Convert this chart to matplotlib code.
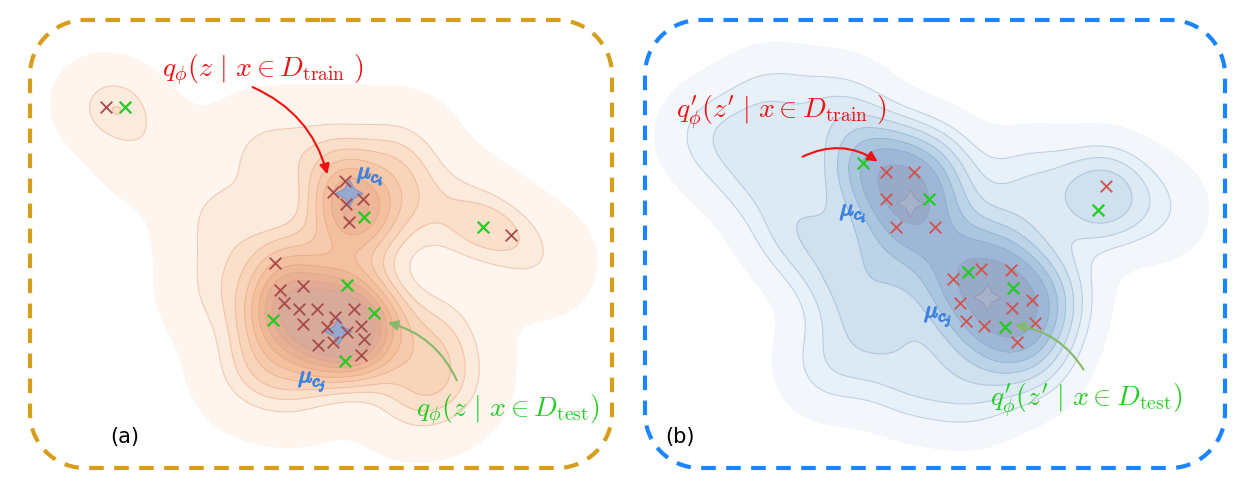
import numpy as np
import matplotlib.pyplot as plt
import matplotlib.patheffects as pe
from matplotlib.patches import Polygon, FancyArrowPatch

plt.rcParams['mathtext.fontset'] = 'cm'

# panel (a) points, in picture pixels
a_red_x = [106, 345, 333, 363, 346, 349, 275, 280, 303, 284, 299, 317, 354, 303, 335, 327, 347, 361, 364, 318, 333, 361, 511]
a_red_y = [107, 181, 192, 199, 204, 222, 263, 290, 286, 303, 309, 309, 309, 324, 317, 327, 332, 326, 339, 345, 342, 355, 235]
a_grn_x = [125, 364, 347, 374, 273, 345, 483]
a_grn_y = [107, 217, 285, 313, 320, 361, 227]
a_mu_x = [349, 338]
a_mu_y = [193, 331]
# rough centres and weights of the broad density of (a)
a_halo_x = [92, 150, 262, 330, 400, 218, 218, 250, 300, 410, 450, 440, 465, 540, 300, 360, 330, 380, 280, 400]
a_halo_y = [100, 150, 150, 150, 150, 220, 290, 372, 382, 398, 382, 330, 215, 262, 250, 250, 320, 330, 330, 200]
a_halo_w = [0.6, 1.3, 1.8, 1.8, 1.8, 1.8, 1.8, 1.8, 1.8, 1.8, 1.8, 1.8, 1.8, 1.5, 2, 2, 2, 2, 2, 2]

# panel (b) points
b_red_x = [886, 914, 886, 896, 935, 953, 981, 1011, 1032, 960, 1012, 966, 984, 1035, 1017, 1106]
b_red_y = [172, 172, 199, 227, 227, 279, 269, 270, 300, 303, 308, 321, 326, 323, 342, 186]
b_grn_x = [863, 929, 968, 1013, 1005, 1098]
b_grn_y = [163, 199, 272, 288, 327, 210]
b_mu_x = [910, 987]
b_mu_y = [203, 297]
b_halo_x = [710, 770, 840, 760, 800, 870, 930, 1030, 1100, 1160, 1050, 1030, 970, 910, 830, 845, 920, 990, 880, 905]
b_halo_y = [135, 100, 110, 175, 230, 160, 170, 185, 190, 210, 290, 360, 390, 380, 365, 275, 250, 250, 320, 205]
b_halo_w = [1.2, 1.2, 1.3, 1.4, 1.8, 1.8, 1.8, 1.4, 1.0, 0.9, 1.4, 1.3, 1.3, 1.3, 1.3, 1.8, 1.8, 1.8, 1.8, 1.2]

W, H = 1244, 486
fig = plt.figure(figsize=(W / 100, H / 100), dpi=100)
ax = fig.add_axes([0, 0, 1, 1])
ax.set_xlim(0, W)
ax.set_ylim(H, 0)
ax.axis('off')

gx, gy = np.meshgrid(np.arange(0, W, 2.0), np.arange(0, H, 2.0))


def gsum(px, py, h, w=None):
    if w is None:
        w = [1] * len(px)
    z = np.zeros_like(gx)
    for x0, y0, wk in zip(px, py, w):
        z += wk * np.exp(-((gx - x0) ** 2 + (gy - y0) ** 2) / (2 * h ** 2))
    return z


def rounded_rect(x0, y0, x1, y1, r):
    t = np.linspace(0, np.pi / 2, 30)
    pts = [((x0 + x1) / 2, y0)]
    for cx, cy, a0 in [(x1 - r, y0 + r, -np.pi / 2), (x1 - r, y1 - r, 0),
                       (x0 + r, y1 - r, np.pi / 2), (x0 + r, y0 + r, np.pi)]:
        pts += list(zip(cx + r * np.cos(a0 + t), cy + r * np.sin(a0 + t)))
    pts.append(pts[0])
    return np.array(pts)


frames = {'a': (30, 20, 612, 468, '#d69e1a'), 'b': (645, 20, 1225, 468, '#1a85ff')}
clips = {}
for k, (x0, y0, x1, y1, c) in frames.items():
    pts = rounded_rect(x0, y0, x1, y1, 55)
    ax.plot(pts[:, 0], pts[:, 1], color=c, lw=3.0, ls=(0, (3.5, 2.5)), zorder=6)
    clips[k] = Polygon(pts, closed=True, transform=ax.transData)

lev_a = [0.4, 1.9, 2.7, 3.4, 4.2, 5.0, 5.9, 6.8, 7.8, 8.8, 40]
col_a = ['#fdf5ee', '#fbebdd', '#fadfcb', '#f8d4bb', '#f6caac', '#f3c0a0',
         '#eeb797', '#e8b195', '#e0ac98', '#d8aa9a']
lev_b = [0.35, 1.1, 1.7, 2.4, 3.2, 4.1, 5.1, 6.5, 40]
col_b = ['#f3f7fb', '#e9f1f8', '#dde9f3', '#cfe0ee', '#bdd4e8', '#aac6df',
         '#9fb7d6', '#98aac8']

za = gsum(a_red_x + a_grn_x, a_red_y + a_grn_y, 25) + gsum(a_halo_x, a_halo_y, 35, a_halo_w)
cs = ax.contourf(gx, gy, za, levels=lev_a, colors=col_a)
cs.set_clip_path(clips['a'])
cl = ax.contour(gx, gy, za, levels=lev_a[1:-1], colors='#e89a70', linewidths=0.8, alpha=0.4)
cl.set_clip_path(clips['a'])

zb = gsum(b_red_x + b_grn_x, b_red_y + b_grn_y, 30) + gsum(b_halo_x, b_halo_y, 35, b_halo_w)
cs = ax.contourf(gx, gy, zb, levels=lev_b, colors=col_b)
cs.set_clip_path(clips['b'])
cl = ax.contour(gx, gy, zb, levels=lev_b[1:-1], colors='#7fa3c8', linewidths=0.8, alpha=0.4)
cl.set_clip_path(clips['b'])

ax.scatter(a_red_x, a_red_y, marker='x', s=70, c='#a84a4c', lw=1.3, zorder=5)
ax.scatter(a_grn_x, a_grn_y, marker='x', s=70, c='#22cc22', lw=1.6, zorder=5)
ax.scatter(a_mu_x, a_mu_y, marker=(4, 1, 0), s=380, c='#8ea9d8', ec='#7090c0', lw=0.6, alpha=0.9, zorder=4)
ax.scatter(b_red_x, b_red_y, marker='x', s=70, c='#cf544c', lw=1.3, zorder=5)
ax.scatter(b_grn_x, b_grn_y, marker='x', s=70, c='#22cc22', lw=1.6, zorder=5)
ax.scatter(b_mu_x, b_mu_y, marker=(4, 1, 0), s=380, c='#a9b2c8', ec='#8a96b0', lw=0.6, alpha=0.9, zorder=4)

mu_c = '#3d82e0'
bold = [pe.withStroke(linewidth=0.9, foreground=mu_c)]
for x, y, s in [(370, 175, r'$\mu_{c_i}$'), (312, 381, r'$\mu_{c_j}$'),
                (853, 212, r'$\mu_{c_i}$'), (938, 316, r'$\mu_{c_j}$')]:
    ax.text(x, y, s, color=mu_c, fontsize=17, ha='center', va='center', path_effects=bold, zorder=5)

red = '#ee1111'
grn = '#22cc22'
ax.text(263, 70, r'$q_{\phi}(z\ |\ x\in D_{\rm train}\ )$', color=red, fontsize=20, ha='center', va='center')
ax.text(508, 410, r'$q_{\phi}(z\ |\ x\in D_{\rm test})$', color=grn, fontsize=20, ha='center', va='center')
ax.text(781, 112, r"$q_{\phi}^{\prime}(z^{\prime}\ |\ x\in D_{\rm train}\ )$", color=red, fontsize=20, ha='center', va='center')
ax.text(1086, 400, r"$q_{\phi}^{\prime}(z^{\prime}\ |\ x\in D_{\rm test})$", color=grn, fontsize=20, ha='center', va='center')

ax.text(125, 437, '(a)', fontsize=15, ha='center', va='center')
ax.text(680, 437, '(b)', fontsize=15, ha='center', va='center')

arr = dict(arrowstyle='-|>', mutation_scale=15, lw=1.5)
ax.add_patch(FancyArrowPatch((250, 86), (328, 177), connectionstyle='arc3,rad=-0.25', color=red, zorder=7, **arr))
ax.add_patch(FancyArrowPatch((458, 383), (385, 322), connectionstyle='arc3,rad=0.25', color='#86b86a', zorder=7, **arr))
ax.add_patch(FancyArrowPatch((800, 158), (880, 163), connectionstyle='arc3,rad=-0.3', color=red, zorder=7, **arr))
ax.add_patch(FancyArrowPatch((1085, 372), (1012, 325), connectionstyle='arc3,rad=0.25', color='#86b86a', zorder=7, **arr))

fig.savefig('out.png', dpi=100)
